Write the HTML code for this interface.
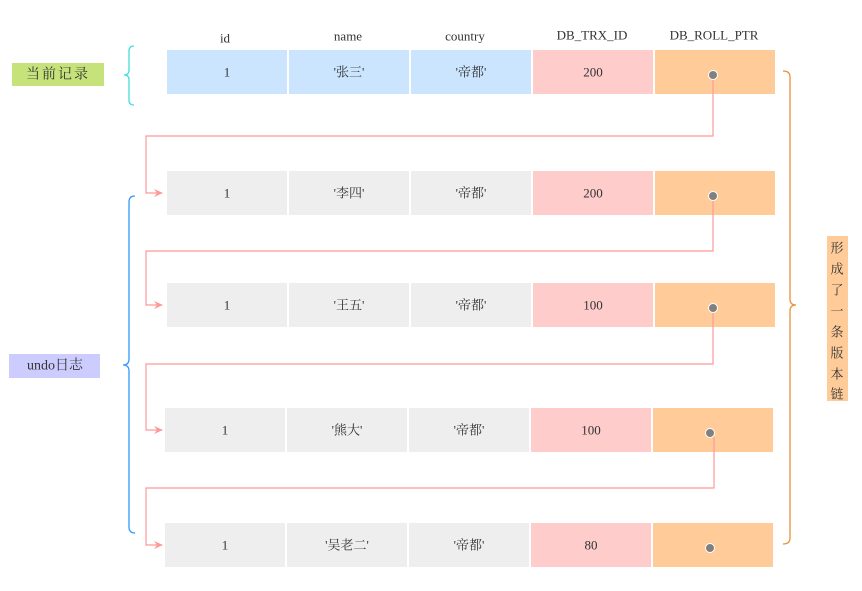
<!DOCTYPE html>
<html><head><meta charset="utf-8"><style>
body{margin:0;background:#fff}
svg text{font-family:"Liberation Serif","Noto Serif CJK SC",serif;font-size:13px;fill:#333;text-anchor:middle;dominant-baseline:central}
</style></head><body>
<svg width="862" height="586" viewBox="0 0 862 586" xmlns="http://www.w3.org/2000/svg">
<defs><marker id="a" markerWidth="10" markerHeight="10" refX="8" refY="5" orient="auto" markerUnits="userSpaceOnUse"><path d="M0,1 L9,5 L0,9 L3,5 Z" fill="#f99"/></marker></defs>
<text x="225" y="38">id</text><text x="348" y="36">name</text><text x="465" y="36">country</text>
<text x="592" y="35">DB_TRX_ID</text><text x="714" y="35">DB_ROLL_PTR</text>
<g>
<rect x="167" y="50" width="120" height="44" fill="#cce5ff"/><rect x="289" y="50" width="120" height="44" fill="#cce5ff"/><rect x="411" y="50" width="120" height="44" fill="#cce5ff"/><rect x="533" y="50" width="120" height="44" fill="#ffcccc"/><rect x="655" y="50" width="120" height="44" fill="#ffcc99"/>
<text x="227" y="72">1</text><text x="349" y="72">'张三'</text><text x="471" y="72">'帝都'</text><text x="593" y="72">200</text>
</g>
<g>
<rect x="167" y="171" width="120" height="44" fill="#eee"/><rect x="289" y="171" width="120" height="44" fill="#eee"/><rect x="411" y="171" width="120" height="44" fill="#eee"/><rect x="533" y="171" width="120" height="44" fill="#ffcccc"/><rect x="655" y="171" width="120" height="44" fill="#ffcc99"/>
<text x="227" y="193">1</text><text x="349" y="193">'李四'</text><text x="471" y="193">'帝都'</text><text x="593" y="193">200</text>
</g>
<g>
<rect x="167" y="283" width="120" height="44" fill="#eee"/><rect x="289" y="283" width="120" height="44" fill="#eee"/><rect x="411" y="283" width="120" height="44" fill="#eee"/><rect x="533" y="283" width="120" height="44" fill="#ffcccc"/><rect x="655" y="283" width="120" height="44" fill="#ffcc99"/>
<text x="227" y="305">1</text><text x="349" y="305">'王五'</text><text x="471" y="305">'帝都'</text><text x="593" y="305">100</text>
</g>
<g>
<rect x="165" y="408" width="120" height="44" fill="#eee"/><rect x="287" y="408" width="120" height="44" fill="#eee"/><rect x="409" y="408" width="120" height="44" fill="#eee"/><rect x="531" y="408" width="120" height="44" fill="#ffcccc"/><rect x="653" y="408" width="120" height="44" fill="#ffcc99"/>
<text x="225" y="430">1</text><text x="347" y="430">'熊大'</text><text x="469" y="430">'帝都'</text><text x="591" y="430">100</text>
</g>
<g>
<rect x="165" y="523" width="120" height="44" fill="#eee"/><rect x="287" y="523" width="120" height="44" fill="#eee"/><rect x="409" y="523" width="120" height="44" fill="#eee"/><rect x="531" y="523" width="120" height="44" fill="#ffcccc"/><rect x="653" y="523" width="120" height="44" fill="#ffcc99"/>
<text x="225" y="545">1</text><text x="347" y="545">'吴老二'</text><text x="469" y="545">'帝都'</text><text x="591" y="545">80</text>
</g>
<g fill="none" stroke="#f99" stroke-width="1.2">
<path d="M713,79 V136 H146 V193 H162" marker-end="url(#a)"/>
<path d="M713,200 V251 H146 V305 H162" marker-end="url(#a)"/>
<path d="M713,312 V364 H146 V430 H162" marker-end="url(#a)"/>
<path d="M714,437 V488 H146 V545 H162" marker-end="url(#a)"/>
</g>
<g fill="#808080" stroke="#fff">
<circle cx="713" cy="75" r="4.5"/><circle cx="713" cy="196" r="4.5"/><circle cx="713" cy="308" r="4.5"/><circle cx="710" cy="433" r="4.5"/><circle cx="710" cy="548" r="4.5"/>
</g>
<path d="M134,46 Q129,46 129,51 V70 Q129,75 124,75 Q129,75 129,80 V100 Q129,105 134,105" fill="none" stroke="#4dd" stroke-width="1.3"/>
<path d="M135,196 Q129,196 129,202 V359 Q129,365 123,365 Q129,365 129,371 V527 Q129,533 135,533" fill="none" stroke="#39f" stroke-width="1.3"/>
<path d="M783,71 Q790,71 790,77 V299 Q790,305 796,305 Q790,305 790,311 V538 Q790,544 783,544" fill="none" stroke="#e8923a" stroke-width="1.3"/>
<rect x="12" y="63" width="92" height="23" fill="#c6e27a"/>
<text x="58" y="75" style="font-size:14px;letter-spacing:2px">当前记录</text>
<rect x="9" y="354" width="91" height="24" fill="#ccccff"/>
<text x="55" y="366" style="font-size:14px">undo日志</text>
<rect x="827" y="236" width="21" height="165" fill="#ffcc99"/>
<g style="font-size:14px"><text x="837" y="248">形</text><text x="837" y="269">成</text><text x="837" y="290">了</text><text x="837" y="311">一</text><text x="837" y="332">条</text><text x="837" y="353">版</text><text x="837" y="374">本</text><text x="837" y="394">链</text></g>
</svg>
</body></html>
